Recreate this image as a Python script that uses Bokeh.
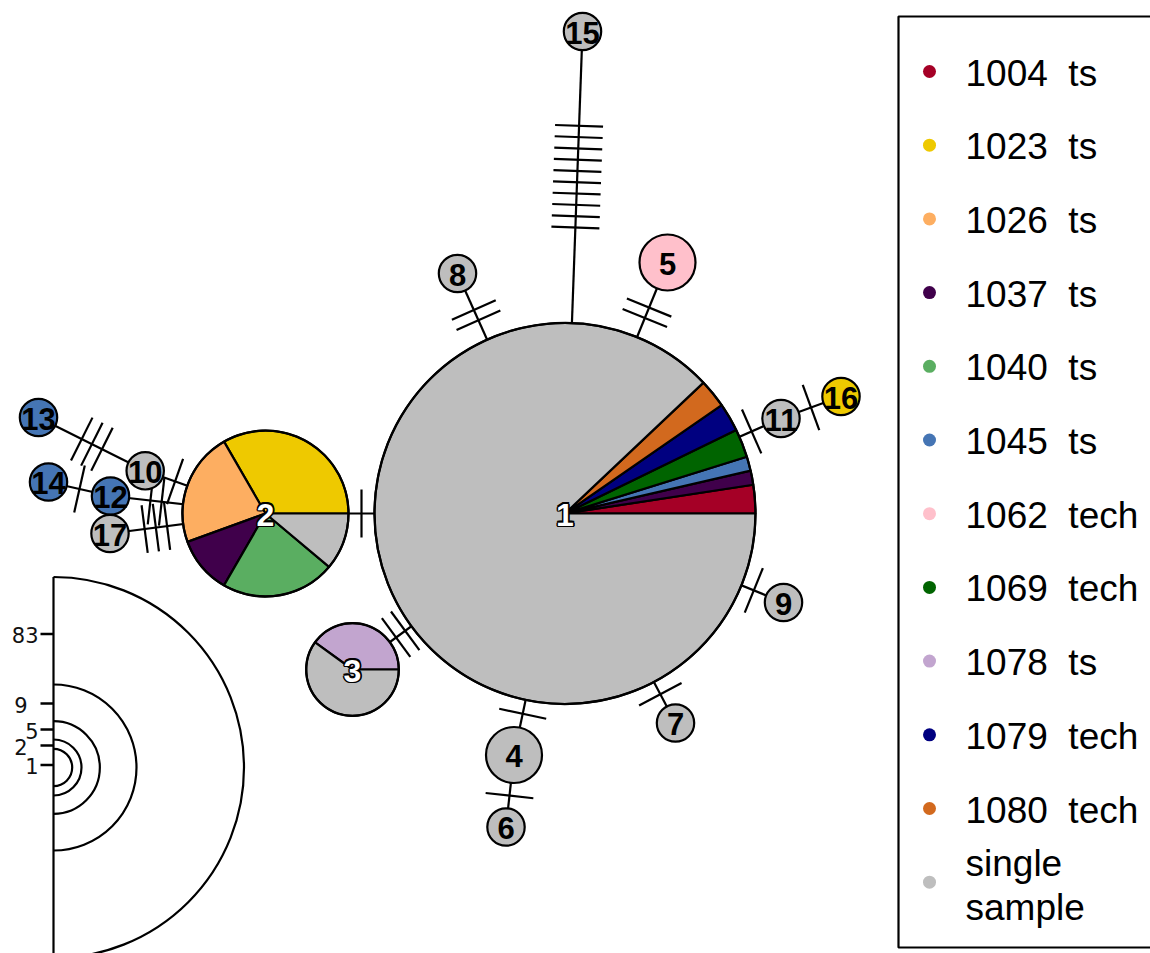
import math
from bokeh.plotting import figure
from bokeh.models import Range1d
from bokeh.core.properties import value
from bokeh.embed import file_html
from bokeh.resources import INLINE

# ---------------- data ----------------
haplotypes = [str(i) for i in range(1, 18)]
groups = ["1004\u00a0\u00a0ts", "1023\u00a0\u00a0ts", "1026\u00a0\u00a0ts", "1037\u00a0\u00a0ts",
          "1040\u00a0\u00a0ts", "1045\u00a0\u00a0ts", "1062\u00a0\u00a0tech", "1069\u00a0\u00a0tech",
          "1078\u00a0\u00a0ts", "1079\u00a0\u00a0tech", "1080\u00a0\u00a0tech", "single sample"]

# haplotype:    1  2  3  4  5  6  7  8  9 10 11 12 13 14 15 16 17
n_1004_ts   = [ 2, 0, 0, 0, 0, 0, 0, 0, 0, 0, 0, 0, 0, 0, 0, 0, 0]
n_1023_ts   = [ 0, 3, 0, 0, 0, 0, 0, 0, 0, 0, 0, 0, 0, 0, 0, 1, 0]
n_1026_ts   = [ 0, 2, 0, 0, 0, 0, 0, 0, 0, 0, 0, 0, 0, 0, 0, 0, 0]
n_1037_ts   = [ 1, 1, 0, 0, 0, 0, 0, 0, 0, 0, 0, 0, 0, 0, 0, 0, 0]
n_1040_ts   = [ 0, 2, 0, 0, 0, 0, 0, 0, 0, 0, 0, 0, 0, 0, 0, 0, 0]
n_1045_ts   = [ 1, 0, 0, 0, 0, 0, 0, 0, 0, 0, 0, 1, 1, 1, 0, 0, 0]
n_1062_tech = [ 0, 0, 0, 0, 2, 0, 0, 0, 0, 0, 0, 0, 0, 0, 0, 0, 0]
n_1069_tech = [ 2, 0, 0, 0, 0, 0, 0, 0, 0, 0, 0, 0, 0, 0, 0, 0, 0]
n_1078_ts   = [ 0, 0, 2, 0, 0, 0, 0, 0, 0, 0, 0, 0, 0, 0, 0, 0, 0]
n_1079_tech = [ 2, 0, 0, 0, 0, 0, 0, 0, 0, 0, 0, 0, 0, 0, 0, 0, 0]
n_1080_tech = [ 2, 0, 0, 0, 0, 0, 0, 0, 0, 0, 0, 0, 0, 0, 0, 0, 0]
n_single    = [73, 1, 3, 2, 0, 1, 1, 1, 1, 1, 1, 0, 0, 0, 1, 0, 1]

# links of the network and number of mutational steps on each
edge_from      = ["1", "1", "1", "1", "11", "1", "1", "1", "4", "1", "1", "2", "2", "2", "10", "12"]
edge_to        = ["15", "8", "5", "11", "16", "9", "7", "4", "6", "3", "2", "10", "12", "17", "13", "14"]
edge_mutations = [10, 2, 2, 1, 1, 1, 1, 1, 1, 2, 1, 1, 2, 3, 3, 1]

size_legend_values = [83, 9, 5, 2, 1]

# ---------------- style / layout ----------------
group_colors = ["#A50026", "#EEC900", "#FDAE61", "#40004B", "#5AAE61", "#4575B4",
                "#FFC0CB", "#006400", "#C2A5CF", "#000080", "#D2691E", "#BEBEBE"]
count_table = [n_1004_ts, n_1023_ts, n_1026_ts, n_1037_ts, n_1040_ts, n_1045_ts,
               n_1062_tech, n_1069_tech, n_1078_ts, n_1079_tech, n_1080_tech, n_single]

# node layout (page pixel space)
node_pos = {
    "1": (564.5, 513), "2": (265, 513), "3": (352, 669), "4": (513.5, 754.5),
    "5": (667, 262), "6": (505.5, 826.5), "7": (675, 722.5), "8": (457, 273),
    "9": (783, 602), "10": (144.7, 470.3), "11": (780.5, 418), "12": (110, 495.5),
    "13": (38, 417), "14": (48, 481.5), "15": (582, 31), "16": (840.5, 396),
    "17": (109.5, 533),
}
radius_by_size = {1: 18.7, 2: 28.0, 5: 46.3, 9: 83.0, 83: 190.5}
size_tick_y = {83: 633.5, 9: 703, 5: 729, 2: 745, 1: 764.5}
size_label_right = {83: 38, 9: 27, 5: 38, 2: 27, 1: 38}
size_legend_center = (53, 767)
mark_shift = {("1", "15"): 10}
LW = 2.2

W, H = 1150, 953
p = figure(width=W, height=H, x_range=Range1d(0, W), y_range=Range1d(H, 0),
           output_backend="svg", toolbar_location=None, min_border=0)
p.axis.visible = False
p.grid.visible = False
p.outline_line_color = None
p.background_fill_color = "white"

totals = [sum(col[i] for col in count_table) for i in range(len(haplotypes))]
radius = {h: radius_by_size[totals[i]] for i, h in enumerate(haplotypes)}

# ---- links ----
p.segment(x0=[node_pos[a][0] for a in edge_from], y0=[node_pos[a][1] for a in edge_from],
          x1=[node_pos[b][0] for b in edge_to], y1=[node_pos[b][1] for b in edge_to],
          line_color="black", line_width=LW)

# ---- mutation ticks ----
spacing, half_len = 11.3, 24
mx0, my0, mx1, my1 = [], [], [], []
for a, b, n in zip(edge_from, edge_to, edge_mutations):
    (xa, ya), (xb, yb) = node_pos[a], node_pos[b]
    dx, dy = xb - xa, yb - ya
    L = math.hypot(dx, dy)
    ux, uy = dx / L, dy / L
    ra, rb = radius[a], radius[b]
    mid = (ra + (L - rb)) / 2.0 + mark_shift.get((a, b), 0)
    px, py = -uy, ux
    for k in range(n):
        t = mid + (k - (n - 1) / 2.0) * spacing
        cx, cy = xa + ux * t, ya + uy * t
        mx0.append(cx - px * half_len); my0.append(cy - py * half_len)
        mx1.append(cx + px * half_len); my1.append(cy + py * half_len)
p.segment(x0=mx0, y0=my0, x1=mx1, y1=my1, line_color="black", line_width=LW)

# ---- nodes ----
wx, wy, wr, ws, we, wc = [], [], [], [], [], []
cx_, cy_, cr_, cc_ = [], [], [], []
ox, oy, orr = [], [], []
outlined = []
for i, h in enumerate(haplotypes):
    x, y = node_pos[h]
    present = [(g, count_table[g][i]) for g in range(len(groups)) if count_table[g][i] > 0]
    if len(present) == 1:
        cx_.append(x); cy_.append(y); cr_.append(radius[h]); cc_.append(group_colors[present[0][0]])
    else:
        outlined.append(h)
        cum = 0
        for g, c in present:
            wx.append(x); wy.append(y); wr.append(radius[h])
            ws.append(2 * math.pi * cum / totals[i])
            we.append(2 * math.pi * (cum + c) / totals[i])
            wc.append(group_colors[g])
            cum += c
        ox.append(x); oy.append(y); orr.append(radius[h])

p.wedge(x=wx, y=wy, radius=wr, start_angle=ws, end_angle=we, fill_color=wc,
        line_color="black", line_width=LW)
p.circle(x=ox, y=oy, radius=orr, fill_color=None, line_color="black", line_width=LW)
p.circle(x=cx_, y=cy_, radius=cr_, fill_color=cc_, line_color="black", line_width=LW)

# ---- node labels ----
plain = [h for h in haplotypes if h not in outlined]
p.text(x=[node_pos[h][0] for h in plain], y=[node_pos[h][1] + 1 for h in plain], text=plain,
       text_font=value("Liberation Sans"), text_font_style="bold", text_font_size="31px",
       text_align="center", text_baseline="middle", text_color="black")
for ddx, ddy in [(-1.6, 0), (1.6, 0), (0, -1.6), (0, 1.6), (-1.2, -1.2), (1.2, 1.2), (-1.2, 1.2), (1.2, -1.2)]:
    p.text(x=[node_pos[h][0] + ddx for h in outlined], y=[node_pos[h][1] + 1 + ddy for h in outlined],
           text=outlined, text_font=value("Liberation Sans"), text_font_style="bold",
           text_font_size="32px", text_align="center", text_baseline="middle", text_color="black")
p.text(x=[node_pos[h][0] for h in outlined], y=[node_pos[h][1] + 1 for h in outlined], text=outlined,
       text_font=value("Liberation Sans"), text_font_style="bold", text_font_size="32px",
       text_align="center", text_baseline="middle", text_color="white")

# ---- size legend ----
scx, scy = size_legend_center
big = radius_by_size[max(size_legend_values)]
p.segment(x0=[scx], y0=[scy - big], x1=[scx], y1=[scy + big + 20], line_color="black", line_width=LW)
p.arc(x=[scx] * len(size_legend_values), y=[scy] * len(size_legend_values),
      radius=[radius_by_size[v] for v in size_legend_values],
      start_angle=-math.pi / 2, end_angle=math.pi / 2, line_color="black", line_width=LW)
p.segment(x0=[scx - 13] * len(size_legend_values), y0=[size_tick_y[v] for v in size_legend_values],
          x1=[scx] * len(size_legend_values), y1=[size_tick_y[v] for v in size_legend_values],
          line_color="black", line_width=2.5)
p.text(x=[size_label_right[v] for v in size_legend_values], y=[size_tick_y[v] + 1 for v in size_legend_values],
       text=[str(v) for v in size_legend_values], text_font=value("DejaVu Sans"),
       text_font_size="21px", text_align="right", text_baseline="middle", text_color="#111111")

# ---- colour legend ----
p.quad(left=[898], right=[1300], top=[16], bottom=[947], fill_color=None,
       line_color="black", line_width=LW)
row_y = [71 + 73.7 * i for i in range(len(groups))]
p.circle(x=[929] * len(groups), y=row_y, radius=6.5, fill_color=group_colors, line_color=None)
single_lines = [row_y[-1] - 19, row_y[-1] + 25]
p.text(x=[965] * (len(groups) - 1), y=[yy + 1.5 for yy in row_y[:-1]], text=groups[:-1],
       text_font=value("Liberation Sans"), text_font_size="37px",
       text_align="left", text_baseline="middle", text_color="black")
p.text(x=[965, 965], y=single_lines, text=groups[-1].split(" "),
       text_font=value("Liberation Sans"), text_font_size="37px",
       text_align="left", text_baseline="middle", text_color="black")

open("out.html", "w").write(file_html(p, INLINE))
